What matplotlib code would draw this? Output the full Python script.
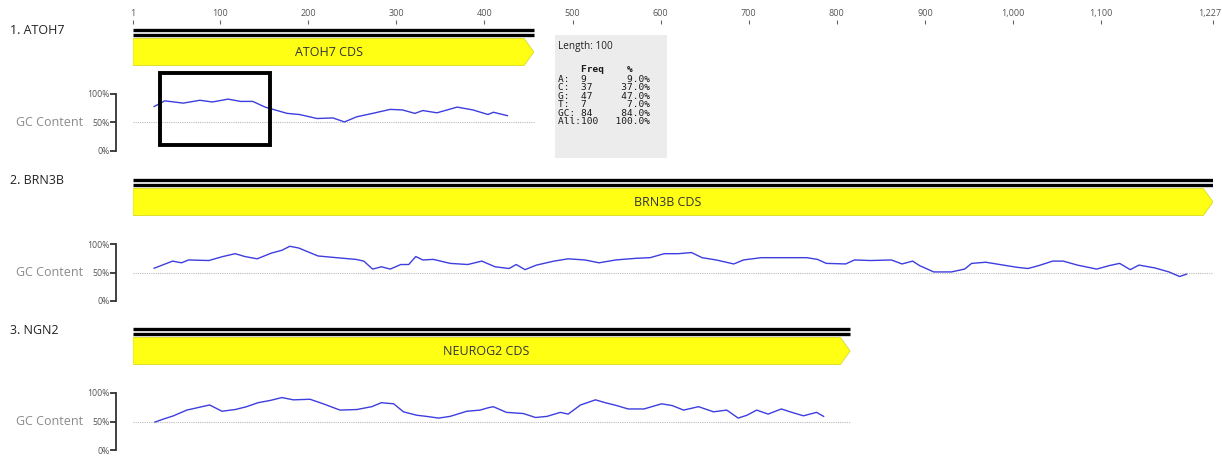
import matplotlib
matplotlib.use("Agg")
import matplotlib.pyplot as plt
from matplotlib.patches import Polygon, Rectangle, FancyBboxPatch
from matplotlib.transforms import ScaledTranslation

# ---------------- data ----------------
seq_names = ["1. ATOH7", "2. BRN3B", "3. NGN2"]
feature_labels = ["ATOH7 CDS", "BRN3B CDS", "NEUROG2 CDS"]
seq_lengths = [456, 1227, 815]

ruler_ticks = [1, 100, 200, 300, 400, 500, 600, 700, 800, 900, 1000, 1100, 1227]
gc_ticks = [0, 50, 100]
gc_tick_labels = ["0%", "50%", "100%"]

atoh7_pos = [25, 37, 58, 77, 91, 109, 123, 137, 151, 160, 176, 190, 210, 228, 241,
             255, 273, 293, 307, 321, 330, 346, 369, 387, 404, 410, 426]
atoh7_gc = [78, 88, 84, 89, 86, 91, 87, 87, 77, 73, 66, 64, 57, 58, 51,
            60, 66, 73, 72, 66, 71, 67, 77, 72, 64, 68, 62]

brn3b_pos = [25, 46, 56, 64, 87, 103, 117, 128, 142, 158, 170, 179, 189, 211, 232,
             254, 263, 273, 283, 293, 305, 314, 322, 330, 342, 361, 381, 397, 412, 428,
             436, 446, 459, 479, 495, 514, 530, 549, 573, 588, 604, 620, 635, 647, 663,
             683, 694, 714, 738, 766, 778, 788, 810, 820, 838, 862, 874, 886, 894, 910,
             930, 945, 953, 969, 989, 1005, 1017, 1029, 1045, 1057, 1073, 1095, 1109,
             1121, 1133, 1143, 1161, 1177, 1189, 1197]
brn3b_gc = [57.5, 70, 67, 72, 71, 78, 83, 78, 74, 84, 89, 96, 93, 79, 76,
            73, 70, 56, 60, 56, 64, 64, 78, 72, 73, 66, 64, 70, 60, 57,
            64, 55, 63, 70, 74, 72, 67, 72, 75, 76, 83, 83, 85, 76, 72,
            65, 72, 76, 76, 76, 73, 66, 65, 72, 71, 72, 65, 70, 62, 51,
            51, 56, 66, 68, 63, 59, 57, 62, 70, 70, 63, 56, 62,
            66, 55, 63, 58, 51, 43, 47]

ngn2_pos = [26, 35, 47, 62, 75, 88, 102, 117, 130, 143, 157, 170, 183, 202, 217,
            236, 255, 272, 283, 297, 308, 323, 334, 348, 361, 380, 395, 404, 410, 425,
            444, 458, 471, 486, 495, 509, 526, 537, 550, 563, 581, 601, 613, 626, 643,
            660, 675, 688, 698, 709, 722, 737, 749, 762, 777, 785]
ngn2_gc = [49, 54, 60, 70, 74.5, 79, 68, 71, 76, 83, 87, 92, 88, 89, 81,
           70, 71, 76, 83, 81, 67, 61, 59, 56, 59, 68, 70, 74, 76, 66,
           64, 57, 59, 66, 63, 79, 88, 83, 78, 72, 72, 81, 78, 70, 76,
           67, 70, 56, 61, 70, 63, 72, 66, 60, 66, 59]

gc_positions = [atoh7_pos, brn3b_pos, ngn2_pos]
gc_values = [atoh7_gc, brn3b_gc, ngn2_gc]

stats_bases = ["A", "C", "G", "T", "GC", "All"]
stats_freq = [9, 37, 47, 7, 84, 100]
stats_pct = [9.0, 37.0, 47.0, 7.0, 84.0, 100.0]
selection_length = 100

# ---------------- layout ----------------
W, H = 1222, 458
fig = plt.figure(figsize=(W / 100, H / 100), dpi=100)
fig.patch.set_facecolor("white")
FONT = ["Open Sans", "DejaVu Sans"]


def box(x0, y0, x1, y1):
    return [x0 / W, 1 - y1 / H, (x1 - x0) / W, (y1 - y0) / H]


XL, XR = 133, 1213
XMIN, XMAX = 1, 1227

# ruler
axr = fig.add_axes(box(XL, 24, XR, 25))
axr.set_xlim(XMIN, XMAX)
axr.set_ylim(0, 1)
axr.set_yticks([])
for s in axr.spines.values():
    s.set_visible(False)
axr.xaxis.set_ticks_position("top")
axr.set_xticks(ruler_ticks)
axr.set_xticklabels([f"{t:,}" for t in ruler_ticks], fontsize=6.5,
                    color="#555555", family=FONT)
axr.tick_params(axis="x", direction="out", length=3, width=0.8,
                color="#666666", pad=1.5)
axr.patch.set_alpha(0)
last = axr.get_xticklabels()[-1]
last.set_horizontalalignment("right")
last.set_transform(last.get_transform() + ScaledTranslation(8 / 100, 0, fig.dpi_scale_trans))

row_offsets = [0, 150, 299]
tip_len = 11

for i in range(3):
    o = row_offsets[i]
    L = seq_lengths[i]

    # track: double line + feature arrow
    axt = fig.add_axes(box(XL, 25 + o, XR, 70 + o))
    axt.set_xlim(XMIN, XMAX)
    axt.set_ylim(45, 0)
    axt.axis("off")
    axt.plot([1, L], [4.5, 4.5], color="black", lw=2.4, solid_capstyle="butt")
    axt.plot([1, L], [9.5, 9.5], color="black", lw=2.4, solid_capstyle="butt")
    poly = Polygon([(1, 13.5), (L - tip_len, 13.5), (L, 27), (L - tip_len, 40.5), (1, 40.5)],
                   closed=True, facecolor="#ffff14", edgecolor="#dede30", lw=0.7,
                   joinstyle="round")
    axt.add_patch(poly)
    axt.text((1 + L - tip_len) / 2, 27.5, feature_labels[i], ha="center", va="center",
             fontsize=9, color="#333333", family=FONT)

    # GC content track
    axg = fig.add_axes(box(XL, 94 + o, XR, 151 + o))
    axg.set_xlim(XMIN, XMAX)
    axg.set_ylim(0, 100)
    axg.patch.set_alpha(0)
    for side in ["top", "right", "bottom"]:
        axg.spines[side].set_visible(False)
    axg.spines["left"].set_position(("outward", 12))
    axg.spines["left"].set_color("#333333")
    axg.spines["left"].set_linewidth(1.3)
    axg.set_xticks([])
    axg.set_yticks(gc_ticks)
    axg.set_yticklabels(gc_tick_labels, fontsize=6.3, color="#555555", family=FONT)
    axg.tick_params(axis="y", direction="out", length=4, width=1.3, color="#333333", pad=1)
    axg.hlines(50, 1, L, colors="#bbbbbb", linestyles=(0, (1, 1)), lw=0.8)
    axg.plot(gc_positions[i], gc_values[i], color="#3d3de0", lw=1.0)

# overlay for labels / annotations
axo = fig.add_axes([0, 0, 1, 1])
axo.set_xlim(0, W)
axo.set_ylim(H, 0)
axo.axis("off")
axo.patch.set_alpha(0)

for i in range(3):
    o = row_offsets[i]
    axo.text(10, 31 + o, seq_names[i], ha="left", va="center", fontsize=9,
             color="#222222", family=FONT)
    axo.text(83, 122.5 + o, "GC Content", ha="right", va="center", fontsize=9,
             color="#8a8a8a", family=FONT)

# selection box on ATOH7 GC track
axo.add_patch(Rectangle((160, 73), 110, 72, fill=False, edgecolor="black", lw=2.8))

# statistics tooltip
axo.add_patch(Rectangle((555, 35), 112, 123, facecolor="#ececec", edgecolor="none"))
axo.text(558, 46, f"Length: {selection_length}", ha="left", va="center",
         fontsize=7.2, color="#222222", family=FONT)
mono = "DejaVu Sans Mono"
axo.text(558, 70, "    Freq    %", ha="left", va="center", fontsize=6.8,
         color="#1a1a1a", family=mono, fontweight="bold")
for k, (b, f, p) in enumerate(zip(stats_bases, stats_freq, stats_pct)):
    line = f"{b + ':':<4}{f:<6}{p:>5.1f}%"
    axo.text(558, 79 + 8.6 * k, line, ha="left", va="center", fontsize=6.8,
             color="#1a1a1a", family=mono)

fig.savefig("out.png", dpi=100, facecolor="white")
